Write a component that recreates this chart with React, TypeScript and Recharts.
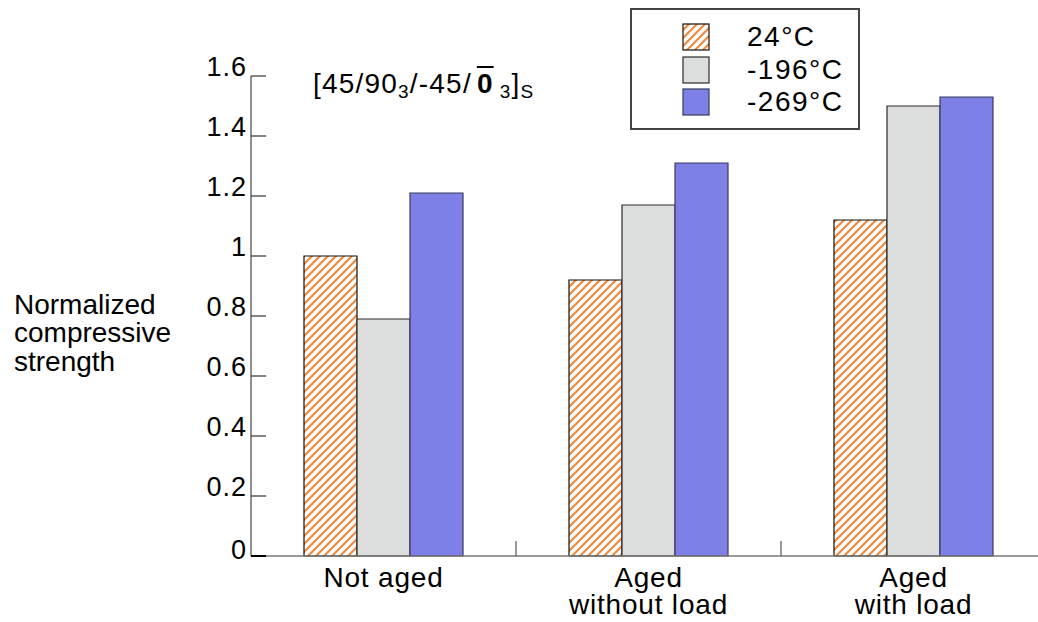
import React from 'react';
import { BarChart, Bar, XAxis, YAxis } from 'recharts';

// Normalized compressive strength of [45/90_3/-45/0_3]s laminates
const categories = ['Not aged', 'Aged\nwithout load', 'Aged\nwith load'];
const strength24 = [1.0, 0.92, 1.12];
const strength196 = [0.79, 1.17, 1.5];
const strength269 = [1.21, 1.31, 1.53];
const seriesNames = ['24°C', '-196°C', '-269°C'];
const yTicks = [0, 0.2, 0.4, 0.6, 0.8, 1, 1.2, 1.4, 1.6];
const yTickLabels = ['0', '0.2', '0.4', '0.6', '0.8', '1', '1.2', '1.4', '1.6'];
const yLabelLines = ['Normalized', 'compressive', 'strength'];

const data = categories.map((category, i) => ({
  category,
  t24: strength24[i],
  t196: strength196[i],
  t269: strength269[i],
}));

const FONT = '"Liberation Sans", Arial, Helvetica, sans-serif';
const CHART_W = 1046;
const CHART_H = 622;
const Y_AXIS_W = 251;
const BAND = (CHART_W - Y_AXIS_W) / categories.length;

const series = [
  { key: 't24', name: seriesNames[0], fill: 'url(#hatch24)', stroke: '#111' },
  { key: 't196', name: seriesNames[1], fill: '#dcdedd', stroke: '#2a2a2a' },
  { key: 't269', name: seriesNames[2], fill: '#7f7fe8', stroke: '#3a3a5e' },
];

const YTick = (props: any) => {
  const { x, y, payload } = props;
  const idx = yTicks.indexOf(payload.value);
  const isZero = payload.value === 0;
  return (
    <g>
      <line x1={x} x2={x + 15} y1={y} y2={y} stroke={isZero ? '#000' : '#333'} strokeWidth={isZero ? 2 : 1.2} />
      <text
        x={x - 4}
        y={y + (isZero ? 3 : 0)}
        textAnchor="end"
        fontSize={27}
        letterSpacing={1}
        fontFamily={FONT}
        fill="#000"
      >
        {idx >= 0 ? yTickLabels[idx] : String(payload.value)}
      </text>
    </g>
  );
};

const XTick = (props: any) => {
  const { x, y, payload, index } = props;
  const lines = String(payload.value).split('\n');
  return (
    <g>
      {index < categories.length - 1 && (
        <line x1={x + BAND / 2} x2={x + BAND / 2} y1={y} y2={y - 15} stroke="#555" strokeWidth={1.2} />
      )}
      {lines.map((line, i) => (
        <text
          key={i}
          x={x}
          y={y + 31 + i * 27}
          textAnchor="middle"
          fontSize={28}
          letterSpacing={0.8}
          fontFamily={FONT}
          fill="#000"
        >
          {line}
        </text>
      ))}
    </g>
  );
};

const LegendBox = () => (
  <div
    style={{
      position: 'absolute',
      left: 630,
      top: 8,
      width: 230,
      height: 122,
      boxSizing: 'border-box',
      border: '2px solid #444',
      background: '#fff',
      paddingTop: 11,
      paddingLeft: 50,
      fontFamily: FONT,
      fontSize: 28,
      letterSpacing: 1.5,
      color: '#000',
    }}
  >
    {series.map((s) => (
      <div key={s.key} style={{ display: 'flex', alignItems: 'center', height: 32.5 }}>
        <svg width={28} height={28} style={{ display: 'block' }}>
          <rect x={1} y={1} width={26} height={26} fill={s.fill} stroke={s.stroke} strokeWidth={1.2} />
        </svg>
        <span style={{ marginLeft: 37, lineHeight: 1 }}>{s.name}</span>
      </div>
    ))}
  </div>
);

export default function App() {
  return (
    <div style={{ position: 'absolute', left: 0, top: 0, width: 1038, height: 622, overflow: 'hidden', background: '#fff' }}>
      <svg width={0} height={0} style={{ position: 'absolute' }}>
        <defs>
          <pattern id="hatch24" patternUnits="userSpaceOnUse" width={8} height={8}>
            <rect width={8} height={8} fill="#fff" />
            <path d="M-2,2 L2,-2 M0,8 L8,0 M6,10 L10,6" stroke="#f28a3e" strokeWidth={2.2} />
          </pattern>
        </defs>
      </svg>
      <BarChart
        width={CHART_W}
        height={CHART_H}
        data={data}
        margin={{ top: 76, right: 0, left: 0, bottom: 0 }}
        barCategoryGap="20%"
        barGap={0}
      >
        <XAxis
          dataKey="category"
          height={66}
          axisLine={{ stroke: '#777', strokeWidth: 1.5 }}
          tickLine={false}
          tickSize={0}
          tickMargin={0}
          tick={<XTick />}
          interval={0}
        />
        <YAxis
          width={Y_AXIS_W}
          domain={[0, 1.6]}
          ticks={yTicks}
          axisLine={{ stroke: '#444', strokeWidth: 1.2 }}
          tickLine={false}
          tickSize={0}
          tickMargin={0}
          tick={<YTick />}
          interval={0}
        />
        {series.map((s) => (
          <Bar
            key={s.key}
            dataKey={s.key}
            name={s.name}
            fill={s.fill}
            stroke={s.stroke}
            strokeWidth={1.2}
            isAnimationActive={false}
          />
        ))}
      </BarChart>
      <LegendBox />
      <div
        style={{
          position: 'absolute',
          left: 14,
          top: 291,
          fontFamily: FONT,
          fontSize: 28,
          lineHeight: '28.3px',
          color: '#000',
        }}
      >
        {yLabelLines.map((l) => (
          <div key={l}>{l}</div>
        ))}
      </div>
      <div
        style={{
          position: 'absolute',
          left: 313,
          top: 70,
          fontFamily: FONT,
          fontSize: 28,
          letterSpacing: 1.2,
          lineHeight: 1,
          color: '#000',
          whiteSpace: 'nowrap',
        }}
      >
        [45/90<sub style={{ fontSize: 19, verticalAlign: -5 }}>3</sub>/-45/
        <span style={{ fontWeight: 'bold', textDecoration: 'overline', marginLeft: 5 }}>0</span>
        <sub style={{ fontSize: 19, verticalAlign: -5, marginLeft: 6 }}>3</sub>]
        <sub style={{ fontSize: 19, verticalAlign: -5 }}>S</sub>
      </div>
    </div>
  );
}
